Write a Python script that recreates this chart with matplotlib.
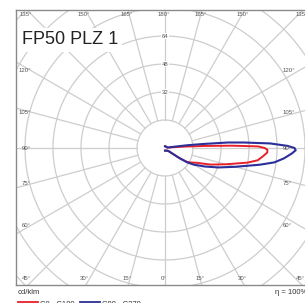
import numpy as np
import matplotlib
matplotlib.use("Agg")
import matplotlib.pyplot as plt

# ---- data (cd/klm vs gamma angle in degrees, right half only) ----
gamma_c90 = [0, 10, 20, 30, 40, 50, 55, 57, 60, 65, 70, 75, 80, 82.5, 85, 87.5, 89, 90, 91, 92.5, 94, 95, 96, 97, 98, 100, 120, 150, 180]
cd_c90 = [1.5, 1.5, 1.5, 1.8, 2.0, 3.0, 10, 15, 19, 25, 32.5, 41.5, 55, 63, 68.2, 72.5, 74.7, 74, 70, 60, 45, 36, 22, 13, 5, 1.5, 1.0, 1.0, 1.0]
gamma_c0 = [0, 10, 20, 30, 40, 50, 55, 57.7, 60, 65, 70, 75, 80, 82.5, 85, 87.5, 89, 90, 91, 92, 93, 94, 95, 97, 100, 120, 150, 180]
cd_c0 = [1.5, 1.5, 1.5, 1.8, 2.0, 3.0, 10, 14.7, 16.5, 20, 27.7, 36, 48, 53.5, 56, 58.5, 58.5, 57, 53, 38, 22, 12, 5, 2, 1.5, 1.0, 1.0, 1.0]
ring_values = [16, 32, 48, 64, 80, 96, 112]
ring_labels = [32, 48, 64]
spoke_angles = list(range(0, 360, 15))
title = "FP50 PLZ 1"
legend_names = ["C0 - C180", "C90 - C270"]
legend_colors = ["#e8202a", "#2b2f9a"]

W, H = 305, 303
fig = plt.figure(figsize=(W / 100, H / 100), dpi=100)
fig.patch.set_facecolor("white")

# frame in pixels
cx, cy = 165, 148
scale = 1.75  # px per cd/klm
left_px, top_px, bottom_px = 16, 10, 285
right_px = 2 * cx - left_px
ax = fig.add_axes([left_px / W, (H - bottom_px) / H, (right_px - left_px) / W, (bottom_px - top_px) / H])
xmin, xmax = (left_px - cx) / scale, (right_px - cx) / scale
ymin, ymax = -(bottom_px - cy) / scale, (cy - top_px) / scale
ax.set_xlim(xmin, xmax)
ax.set_ylim(ymin, ymax)
ax.set_xticks([])
ax.set_yticks([])
for s in ["left", "top", "bottom"]:
    ax.spines[s].set_color("#8a8a8a")
    ax.spines[s].set_linewidth(1.0)
ax.spines["right"].set_visible(False)

grid_c = "#cdcdcd"
t = np.linspace(0, 2 * np.pi, 400)
for rv in ring_values:
    ax.plot(rv * np.cos(t), rv * np.sin(t), color=grid_c, lw=0.9, zorder=1)
for a in spoke_angles:
    g = np.deg2rad(a)
    rr = np.array([16, 250])
    ax.plot(rr * np.sin(g), -rr * np.cos(g), color=grid_c, lw=0.9, zorder=1)

# curves
def xy(gam, vals, side=1):
    g = np.deg2rad(np.array(gam, dtype=float))
    v = np.array(vals, dtype=float)
    return side * v * np.sin(g), -v * np.cos(g)

x0, y0 = xy(gamma_c0, cd_c0)
x1, y1 = xy(gamma_c90, cd_c90)
ax.plot(x0, y0, color=legend_colors[0], lw=1.4, zorder=3, solid_joinstyle="round")
ax.plot(x1, y1, color=legend_colors[1], lw=1.5, zorder=4, solid_joinstyle="round")

lab_kw = dict(fontsize=4.3, color="#555555", family="Liberation Sans", zorder=5)
# ring labels on the vertical spoke
for rv in ring_labels:
    ax.text(0, rv, str(rv), ha="center", va="center",
            bbox=dict(boxstyle="square,pad=0.15", fc="white", ec="none"), **lab_kw)

# angle labels: top/bottom edges
for side in (-1, 1):
    for a in (135, 150, 165, 180):
        if side == 1 and a == 180:
            continue
        yedge = ymax
        xv = side * yedge * np.tan(np.deg2rad(180 - a))
        ax.text(xv - 1.5 / scale, ymax - 5 / scale, f"{a}°", ha="center", va="center", **lab_kw)
    for a in (0, 15, 30, 45):
        if side == 1 and a == 0:
            continue
        yedge = -ymin
        xv = side * yedge * np.tan(np.deg2rad(a))
        ax.text(xv - 1.5 / scale, ymin + 6 / scale, f"{a}°", ha="center", va="center", **lab_kw)
    # side labels
    xin = (31 - cx) / scale
    for a in (60, 75, 90, 105, 120):
        g = np.deg2rad(a)
        yv = -abs(xin) * np.cos(g) / np.sin(g)
        if side == -1:
            ax.text(xin, yv, f"{a}°", ha="right", va="center", **lab_kw)
        else:
            ax.text(-xin - 16 / scale, yv, f"{a}°", ha="left", va="center", **lab_kw)

# title with white box
ax.text((22 - cx) / scale, (cy - 40) / scale, title, ha="left", va="center",
        fontsize=13, family="Liberation Sans", color="#222222", zorder=6,
        bbox=dict(boxstyle="square,pad=0.2", fc="white", ec="none"))

# bottom texts
def fx(px):
    return px / W
def fy(py):
    return (H - py) / H

fig.text(fx(18), fy(293), "cd/klm", fontsize=5.5, family="Liberation Sans", color="#333333", ha="left", va="center")
fig.text(fx(275), fy(293), "η = 100%", fontsize=5.5, family=["Liberation Sans", "DejaVu Sans"], color="#333333", ha="left", va="center")

fig.lines.append(plt.Line2D([fx(18), fx(38)], [fy(302), fy(302)], color=legend_colors[0], lw=1.3, transform=fig.transFigure))
fig.text(fx(40), fy(304), legend_names[0], fontsize=5.5, family="Liberation Sans", color="#333333", ha="left", va="center")
fig.lines.append(plt.Line2D([fx(80), fx(100)], [fy(302), fy(302)], color=legend_colors[1], lw=1.3, transform=fig.transFigure))
fig.text(fx(102), fy(304), legend_names[1], fontsize=5.5, family="Liberation Sans", color="#333333", ha="left", va="center")

fig.savefig("out.png", dpi=100, facecolor="white")
